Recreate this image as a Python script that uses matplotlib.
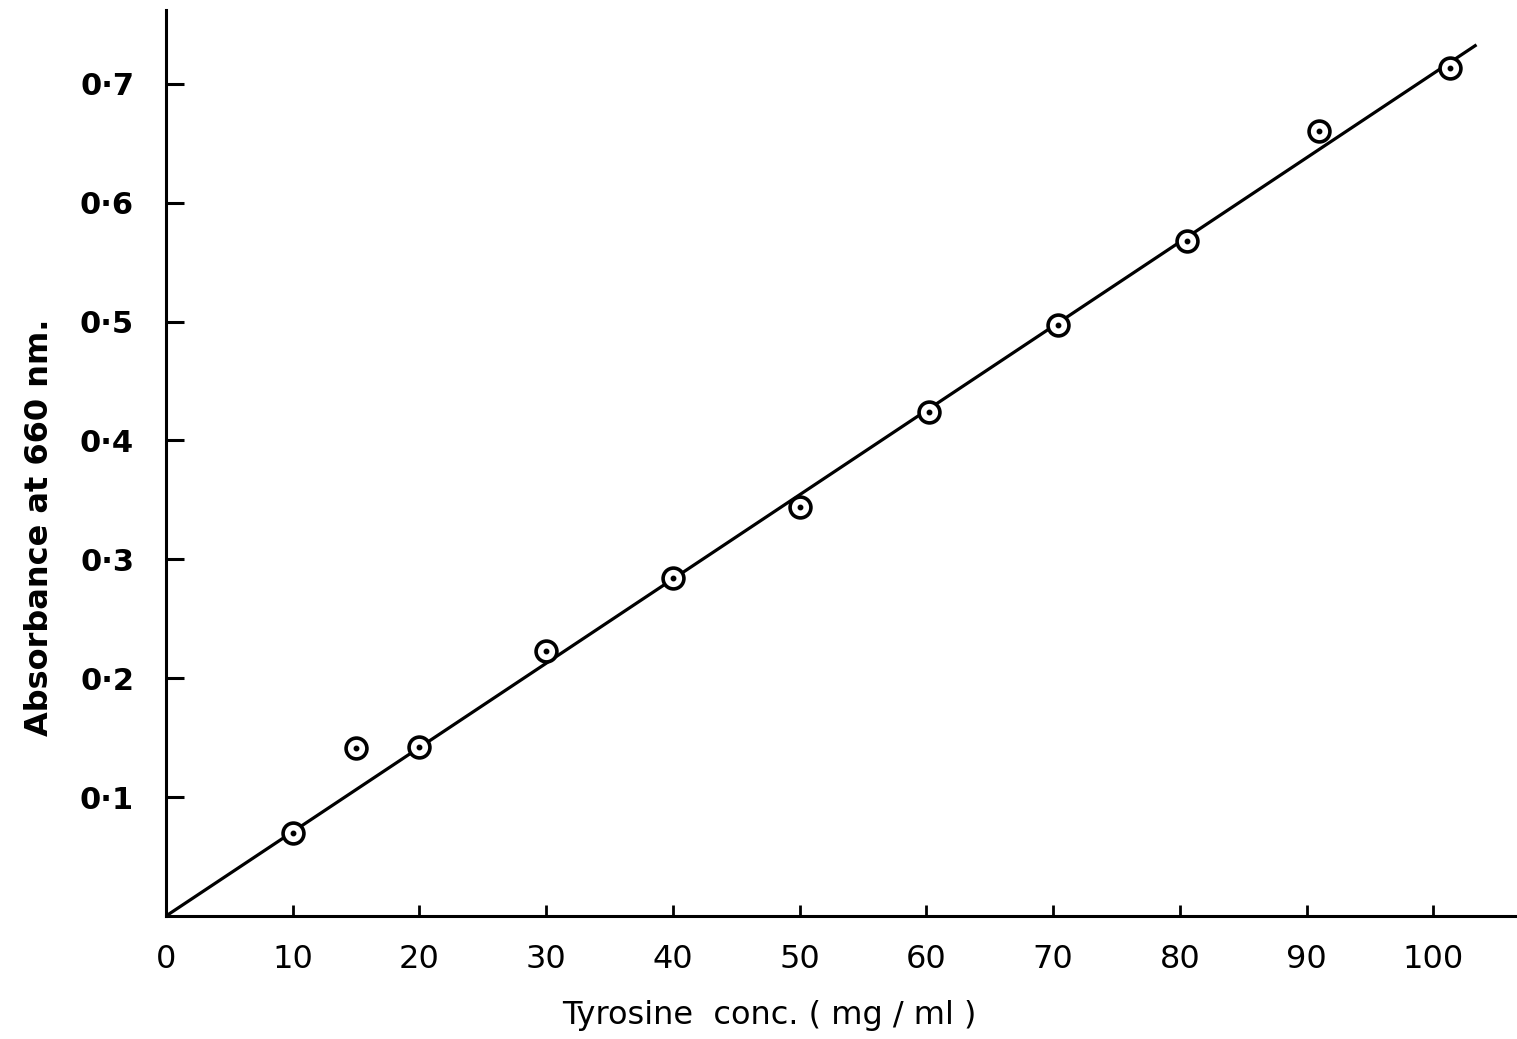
import matplotlib
matplotlib.use("Agg")
import matplotlib.pyplot as plt

# data
conc = [10, 15, 20, 30, 40, 50, 60.2, 70.4, 80.6, 91, 101.3]
absorb = [0.070, 0.141, 0.142, 0.223, 0.284, 0.344, 0.424, 0.497, 0.568, 0.660, 0.713]

# fitted straight line through the origin
fit_x = [0, 103.3]
fit_y = [0, 0.732]

x_ticks = [0, 10, 20, 30, 40, 50, 60, 70, 80, 90, 100]
y_ticks = [0.1, 0.2, 0.3, 0.4, 0.5, 0.6, 0.7]
y_labels = ["0·1", "0·2", "0·3", "0·4", "0·5", "0·6", "0·7"]

fig = plt.figure(figsize=(15.17, 10.39), dpi=100)
ax = fig.add_axes([166 / 1517, 123 / 1039, 1351 / 1517, 906 / 1039])

ax.plot(fit_x, fit_y, color="black", linewidth=2.3, zorder=2)
ax.plot(conc, absorb, linestyle="none", marker="o", markersize=15,
        markerfacecolor="white", markeredgecolor="black", markeredgewidth=2.6, zorder=3)
ax.plot(conc, absorb, linestyle="none", marker="o", markersize=3.2,
        color="black", zorder=4)

ax.set_xlim(0, 106.6)
ax.set_ylim(0, 0.762)

for side in ["top", "right"]:
    ax.spines[side].set_visible(False)
for side in ["left", "bottom"]:
    ax.spines[side].set_linewidth(2.2)

ax.set_xticks(x_ticks)
ax.set_xticklabels([str(v) for v in x_ticks], fontsize=23)
ax.set_yticks(y_ticks)
ax.set_yticklabels(y_labels, fontsize=22, fontweight="bold")
ax.tick_params(axis="x", direction="in", length=8, width=2, pad=20)
ax.tick_params(axis="y", direction="in", length=13, width=2.2, pad=23)

ax.set_xlabel("Tyrosine  conc. ( mg / ml )", fontsize=23, x=(769 - 166) / 1351, labelpad=18)
ax.set_ylabel("Absorbance at 660 nm.", fontsize=23, fontweight="bold", y=(916 - 527) / 906, labelpad=18)

fig.savefig("out.png", dpi=100, facecolor="white")
